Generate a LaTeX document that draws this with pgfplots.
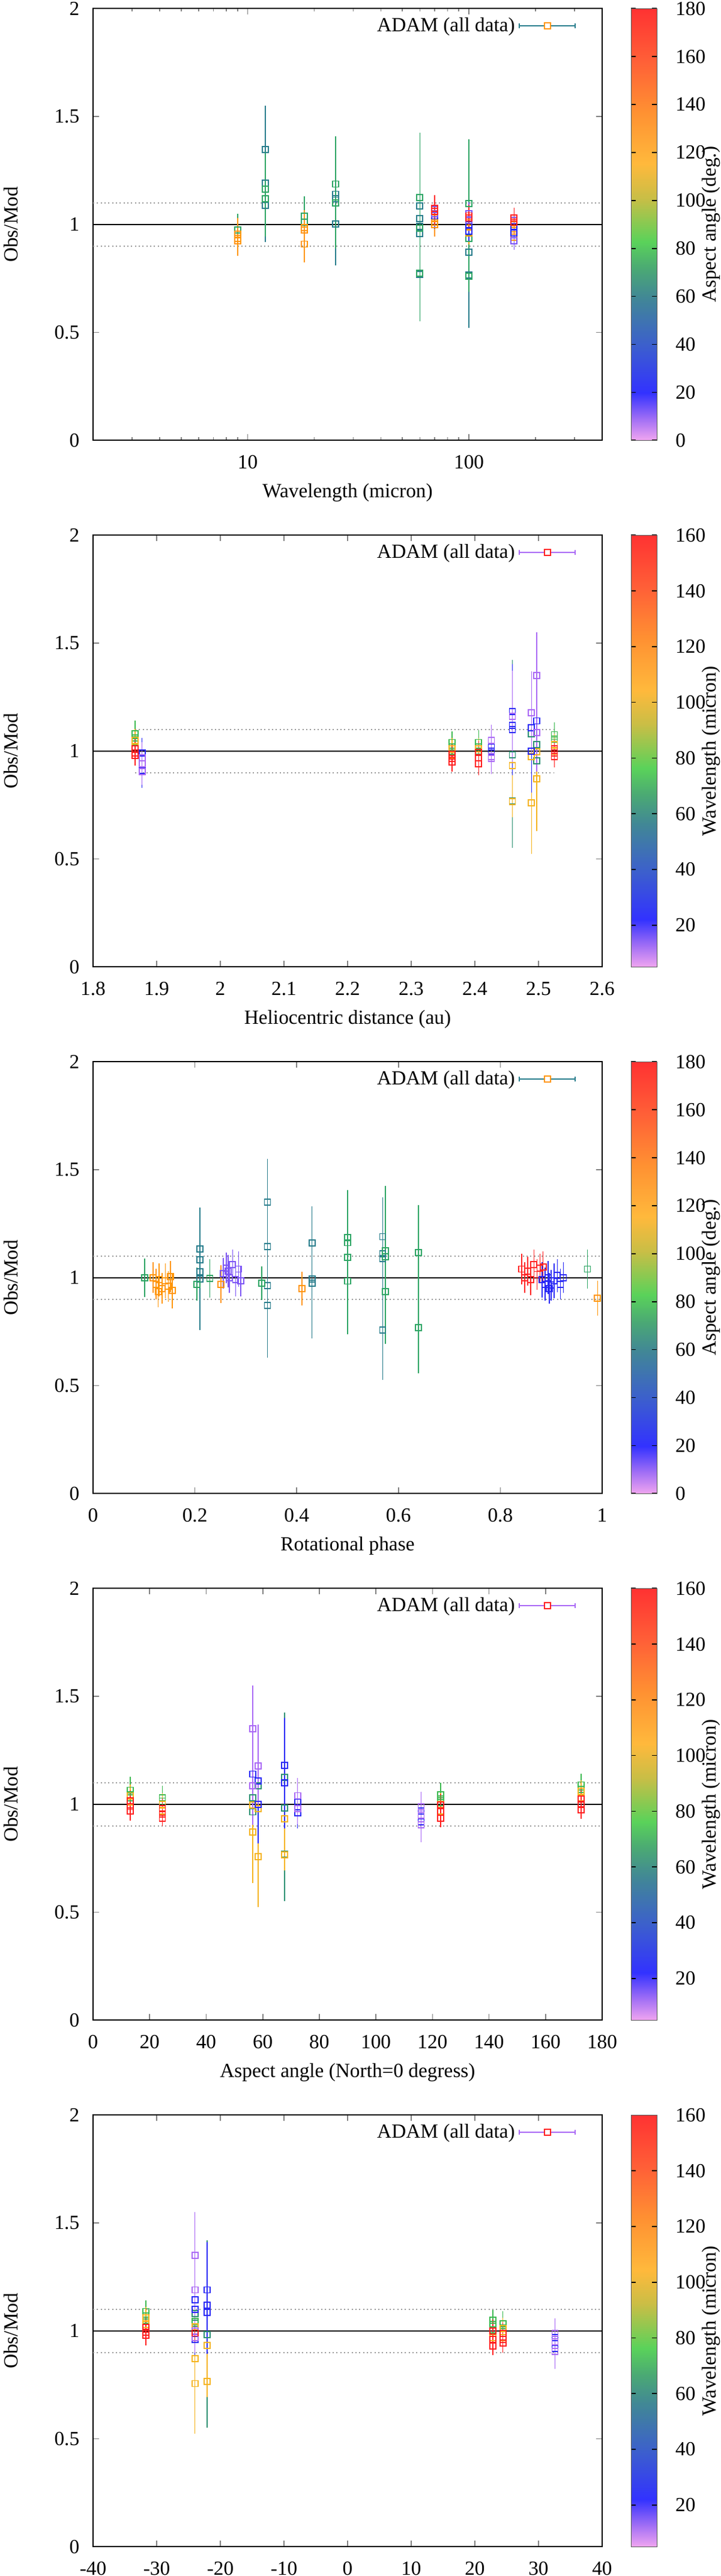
\documentclass[border=0pt]{standalone}
\usepackage{fontspec}
\setmainfont{Liberation Serif}
\usepackage{pgfplots}
\pgfplotsset{compat=1.18}
\definecolor{aV}{RGB}{125,85,245}
\definecolor{aB}{RGB}{40,40,245}
\definecolor{aT}{RGB}{40,125,140}
\definecolor{aG}{RGB}{45,165,100}
\definecolor{aO}{RGB}{255,150,10}
\definecolor{aR}{RGB}{255,35,35}
\definecolor{wV}{RGB}{170,105,245}
\definecolor{wB}{RGB}{40,40,245}
\definecolor{wT}{RGB}{45,145,115}
\definecolor{wG}{RGB}{60,185,80}
\definecolor{wO}{RGB}{245,180,30}
\definecolor{wR}{RGB}{255,30,30}
\pgfplotsset{
  colormap={adam}{rgb255(0cm)=(240,165,240) rgb255(5cm)=(160,110,245) rgb255(11cm)=(50,50,255) rgb255(22cm)=(60,95,205) rgb255(33cm)=(65,135,150) rgb255(40cm)=(75,170,115) rgb255(46cm)=(90,210,90) rgb255(56cm)=(200,190,70) rgb255(64cm)=(255,185,60) rgb255(76cm)=(255,145,50) rgb255(88cm)=(255,95,55) rgb255(100cm)=(255,50,50)},
  panel/.style={
    scale only axis, width=254.4pt, height=215.7pt,
    anchor=north west,
    ymin=0, ymax=2, ytick={0,0.5,1,1.5,2},
    axis line style={line width=0.6pt},
    tick align=inside, major tick length=3pt, minor tick length=1.5pt,
    tick style={gray, line width=0.5pt},
    /pgf/number format/assume math mode=true,
    ticklabel style={font=\fontsize{10}{12}\selectfont},
    yticklabel style={xshift=-3.3pt},
    xticklabel style={yshift=-3.9pt},
    label style={font=\fontsize{10}{12}\selectfont},
    ylabel={Obs/Mod},
    ylabel style={at={(axis description cs:0,0.5)}, anchor=center, inner sep=0pt, yshift=41pt},
    xlabel style={at={(axis description cs:0.5,0)}, anchor=center, yshift=-26.1pt},
    colormap name=adam,
    colorbar,
    legend style={draw=none, fill=none, inner sep=0pt, at={(axis description cs:0.949,0.96)}, anchor=east, font=\fontsize{10}{12}\selectfont},
    legend plot pos=right,
    legend cell align=right,
  },
  cbar/.style={colorbar style={
    scale only axis, width=12.9pt, height=215.7pt,
    at={(parent axis.north east)}, anchor=north west, xshift=6pt,
    tick align=inside, major tick length=2.4pt,
    ytick pos=both, yticklabel pos=right,
    tick style={black, line width=0.5pt},
    axis line style={line width=0.4pt, gray!70!black},
    /pgf/number format/assume math mode=true,
    yticklabel style={font=\fontsize{10}{12}\selectfont, xshift=5.7pt},
    ylabel={#1},
    ylabel style={font=\fontsize{10}{12}\selectfont, at={(axis description cs:1,0.5)}, anchor=center, inner sep=0pt, yshift=-27pt},
  }},
  dat/.style={only marks, mark=square, mark size=1.5pt, line width=0.55pt, mark options={solid, line width=0.55pt},
    error bars/y dir=both, error bars/y explicit,
    error bars/error bar style={line width=0.5pt},
    error bars/error mark options={line width=0.5pt, mark size=1.2pt}},
  ref/.style={black, line width=0.6pt, forget plot},
  dots/.style={gray!80, line width=0.6pt, dash pattern=on 0.6pt off 1.3pt, forget plot},
}
\newcommand{\adamlegend}[2]{%
  \addlegendimage{legend image code/.code={
    \draw[#1, line width=0.5pt] (0pt,0pt) -- (27.9pt,0pt);
    \draw[#1, line width=0.5pt] (0pt,-1.2pt) -- (0pt,1.2pt);
    \draw[#1, line width=0.5pt] (27.9pt,-1.2pt) -- (27.9pt,1.2pt);
    \draw[#2, line width=0.55pt, fill=white] (12.45pt,-1.5pt) rectangle (15.45pt,1.5pt);
  }}
  \addlegendentry{ADAM (all data)}}
\begin{document}
\begin{tikzpicture}
% ---------------- Panel 1 : wavelength ----------------
\begin{axis}[panel, at={(46.5pt,-4.29pt)},
  xmode=log, xmin=2, xmax=400, xtick={10,100}, xticklabels={10,100},
  minor xtick={2,3,4,5,6,7,8,9,20,30,40,50,60,70,80,90,200,300,400},
  xlabel={Wavelength (micron)},
  point meta min=0, point meta max=180,
  cbar={Aspect angle (deg.)}, colorbar style={ytick={0,20,40,60,80,100,120,140,160,180}}]
\addplot[ref] coordinates {(2,1) (400,1)};
\addplot[dots] coordinates {(2,1.1) (400,1.1)};
\addplot[dots] coordinates {(2,0.9) (400,0.9)};
\addplot[dat, color=aT, forget plot] coordinates {
 (12,1.347) +- (0,0.192) (12,1.191) +- (0,0.167) (12,1.089) +- (0,0.16)
 (25,1.14) +- (0,0.18) (25,1.12) +- (0,0.19) (25,1.002) +- (0,0.18)
 (60,1.085) +- (0,0.25) (60,1.028) +- (0,0.24) (60,0.99) +- (0,0.23) (60,0.958) +- (0,0.255) (60,0.768) +- (0,0.055)
 (100,1.00) +- (0,0.28) (100,0.872) +- (0,0.34) (100,0.765) +- (0,0.065)};
\addplot[dat, color=aG, forget plot] coordinates {
 (9,0.974) +- (0,0.064)
 (12,1.163) +- (0,0.165) (12,1.12) +- (0,0.165)
 (18,1.038) +- (0,0.08) (18,1.01) +- (0,0.065)
 (25,1.187) +- (0,0.21) (25,1.10) +- (0,0.2)
 (60,1.125) +- (0,0.29) (60,0.983) +- (0,0.42) (60,0.773) +- (0,0.06)
 (100,1.097) +- (0,0.285) (100,0.935) +- (0,0.225) (100,0.76) +- (0,0.06)};
\addplot[dat, color=aO, forget plot] coordinates {
 (9,0.955) +- (0,0.065) (9,0.935) +- (0,0.068) (9,0.925) +- (0,0.04)
 (18,0.985) +- (0,0.07) (18,0.975) +- (0,0.06) (18,0.909) +- (0,0.075)
 (70,1.03) +- (0,0.045) (70,1.01) +- (0,0.045) (70,1.0) +- (0,0.045)
 (100,1.01) +- (0,0.04) (100,0.99) +- (0,0.04) (100,0.96) +- (0,0.04)
 (160,1.0) +- (0,0.04) (160,0.98) +- (0,0.04) (160,0.96) +- (0,0.04) (160,0.94) +- (0,0.035)};
\addplot[dat, color=aB, forget plot] coordinates {
 (70,1.04) +- (0,0.05) (100,1.0) +- (0,0.04) (100,0.97) +- (0,0.04) (160,0.99) +- (0,0.04) (160,0.96) +- (0,0.04)};
\addplot[dat, color=aV, forget plot] coordinates {
 (70,1.07) +- (0,0.05) (70,1.05) +- (0,0.05) (100,1.05) +- (0,0.04) (100,1.02) +- (0,0.04) (160,1.02) +- (0,0.04) (160,0.925) +- (0,0.03)};
\addplot[dat, color=aR, forget plot] coordinates {
 (70,1.075) +- (0,0.05) (70,1.06) +- (0,0.05) (100,1.04) +- (0,0.04) (100,1.03) +- (0,0.04) (160,1.03) +- (0,0.035) (160,1.01) +- (0,0.04)};
\adamlegend{aT}{aO}
\end{axis}
% ---------------- Panel 2 : heliocentric distance ----------------
\begin{axis}[panel, at={(46.5pt,-267.39pt)},
  xmin=1.8, xmax=2.6, xtick={1.8,1.9,2,2.1,2.2,2.3,2.4,2.5,2.6},
  xlabel={Heliocentric distance (au)},
  point meta min=5, point meta max=160,
  cbar={Wavelength (micron)}, colorbar style={ytick={20,40,60,80,100,120,140,160}}]
\addplot[ref] coordinates {(1.8,1) (2.6,1)};
\addplot[dots] coordinates {(1.866,1.1) (2.525,1.1)};
\addplot[dots] coordinates {(1.866,0.9) (2.525,0.9)};
\addplot[dat, color=wT, forget plot] coordinates {
 (2.459,1.12) +- (0,0.29) (2.459,0.983) +- (0,0.42) (2.459,0.77) +- (0,0.06)
 (2.489,1.08) +- (0,0.25) (2.497,1.03) +- (0,0.24) (2.497,0.955) +- (0,0.245)};
\addplot[dat, color=wG, forget plot] coordinates {
 (1.866,1.08) +- (0,0.05) (1.866,1.06) +- (0,0.05) (1.866,1.045) +- (0,0.045)
 (2.364,1.04) +- (0,0.04) (2.364,1.02) +- (0,0.04) (2.364,1.0) +- (0,0.04)
 (2.406,1.04) +- (0,0.045) (2.406,1.02) +- (0,0.045) (2.406,1.0) +- (0,0.04)
 (2.525,1.076) +- (0,0.046) (2.525,1.055) +- (0,0.045) (2.525,1.04) +- (0,0.045)};
\addplot[dat, color=wO, forget plot] coordinates {
 (1.866,1.05) +- (0,0.04) (1.866,1.02) +- (0,0.04)
 (2.364,1.01) +- (0,0.04) (2.364,0.98) +- (0,0.04)
 (2.406,1.01) +- (0,0.04) (2.406,0.97) +- (0,0.04)
 (2.525,1.03) +- (0,0.04) (2.525,1.0) +- (0,0.04)
 (2.459,0.932) +- (0,0.225) (2.459,0.765) +- (0,0.06)
 (2.489,0.974) +- (0,0.30) (2.489,0.761) +- (0,0.225)
 (2.497,0.997) +- (0,0.28) (2.497,0.872) +- (0,0.23)};
\addplot[dat, color=wB, forget plot] coordinates {
 (1.877,0.99) +- (0,0.06) (1.877,0.91) +- (0,0.07)
 (2.426,1.02) +- (0,0.065) (2.426,1.0) +- (0,0.065)
 (2.459,1.183) +- (0,0.21) (2.459,1.12) +- (0,0.18) (2.459,1.10) +- (0,0.2)
 (2.489,1.108) +- (0,0.18) (2.489,1.0) +- (0,0.18) (2.497,1.14) +- (0,0.17)};
\addplot[dat, color=wV, forget plot] coordinates {
 (1.877,0.97) +- (0,0.06) (1.877,0.94) +- (0,0.05) (1.877,0.905) +- (0,0.05)
 (2.426,1.05) +- (0,0.06) (2.426,0.975) +- (0,0.06) (2.426,0.965) +- (0,0.06)
 (2.459,1.16) +- (0,0.2) (2.489,1.178) +- (0,0.18) (2.497,1.35) +- (0,0.19) (2.497,1.085) +- (0,0.17)};
\addplot[dat, color=wR, forget plot] coordinates {
 (1.866,1.01) +- (0,0.035) (1.866,0.99) +- (0,0.035) (1.866,0.98) +- (0,0.035)
 (2.364,0.985) +- (0,0.035) (2.364,0.965) +- (0,0.035) (2.364,0.95) +- (0,0.035)
 (2.406,0.995) +- (0,0.04) (2.406,0.97) +- (0,0.04) (2.406,0.94) +- (0,0.04)
 (2.525,1.01) +- (0,0.035) (2.525,0.99) +- (0,0.035) (2.525,0.975) +- (0,0.04)};
\adamlegend{wV}{wR}
\end{axis}
% ---------------- Panel 3 : rotational phase ----------------
\begin{axis}[panel, at={(46.5pt,-530.49pt)},
  xmin=0, xmax=1, xtick={0,0.2,0.4,0.6,0.8,1},
  xlabel={Rotational phase},
  point meta min=0, point meta max=180,
  cbar={Aspect angle (deg.)}, colorbar style={ytick={0,20,40,60,80,100,120,140,160,180}}]
\addplot[ref] coordinates {(0,1) (1,1)};
\addplot[dots] coordinates {(0,1.1) (1,1.1)};
\addplot[dots] coordinates {(0,0.9) (1,0.9)};
\addplot[dat, color=aT, forget plot] coordinates {
 (0.210,1.134) +- (0,0.18) (0.210,1.083) +- (0,0.2) (0.210,1.028) +- (0,0.26) (0.210,0.995) +- (0,0.12)
 (0.3425,1.35) +- (0,0.19) (0.3425,1.144) +- (0,0.17) (0.3425,0.963) +- (0,0.25) (0.3425,0.872) +- (0,0.23)
 (0.43,1.16) +- (0,0.16) (0.43,0.995) +- (0,0.265) (0.43,0.975) +- (0,0.235)
 (0.569,1.19) +- (0,0.17) (0.569,1.11) +- (0,0.18) (0.569,1.088) +- (0,0.2) (0.569,0.757) +- (0,0.22)};
\addplot[dat, color=aG, forget plot] coordinates {
 (0.1015,1.00) +- (0,0.078) (0.204,0.97) +- (0,0.065) (0.2294,0.997) +- (0,0.077) (0.331,0.974) +- (0,0.066)
 (0.5,1.185) +- (0,0.21) (0.5,1.162) +- (0,0.164) (0.5,1.093) +- (0,0.292) (0.5,0.984) +- (0,0.235)
 (0.574,1.125) +- (0,0.29) (0.574,1.097) +- (0,0.19) (0.574,0.935) +- (0,0.23)
 (0.639,1.116) +- (0,0.21) (0.639,0.768) +- (0,0.2) (0.971,1.04) +- (0,0.08)};
\addplot[dat, color=aO, forget plot] coordinates {
 (0.118,1.00) +- (0,0.06) (0.124,0.97) +- (0,0.06) (0.128,0.935) +- (0,0.06) (0.130,0.99) +- (0,0.065)
 (0.136,0.95) +- (0,0.06) (0.142,0.985) +- (0,0.07) (0.148,0.96) +- (0,0.06) (0.152,1.005) +- (0,0.06) (0.156,0.94) +- (0,0.07)
 (0.251,0.97) +- (0,0.077) (0.41,0.95) +- (0,0.066) (0.991,0.905) +- (0,0.07)};
\addplot[dat, color=aV, forget plot] coordinates {
 (0.256,1.02) +- (0,0.06) (0.262,1.045) +- (0,0.06) (0.265,1.03) +- (0,0.065) (0.268,1.00) +- (0,0.06)
 (0.274,1.06) +- (0,0.06) (0.280,0.99) +- (0,0.065) (0.286,1.04) +- (0,0.07) (0.290,0.985) +- (0,0.06)};
\addplot[dat, color=aR, forget plot] coordinates {
 (0.842,1.04) +- (0,0.06) (0.848,1.0) +- (0,0.06) (0.854,1.03) +- (0,0.055) (0.860,0.99) +- (0,0.06)
 (0.866,1.06) +- (0,0.06) (0.872,1.015) +- (0,0.06) (0.878,1.045) +- (0,0.055) (0.884,1.05) +- (0,0.06)};
\addplot[dat, color=aB, forget plot] coordinates {
 (0.882,0.99) +- (0,0.07) (0.888,0.97) +- (0,0.065) (0.894,1.0) +- (0,0.065) (0.896,0.95) +- (0,0.06)
 (0.900,0.965) +- (0,0.06) (0.906,0.985) +- (0,0.07) (0.912,1.01) +- (0,0.065) (0.918,0.97) +- (0,0.06) (0.924,1.0) +- (0,0.06)};
\adamlegend{aT}{aO}
\end{axis}
% ---------------- Panel 4 : aspect angle ----------------
\begin{axis}[panel, at={(46.5pt,-793.59pt)},
  xmin=0, xmax=180, xtick={0,20,40,60,80,100,120,140,160,180},
  xlabel={Aspect angle (North=0 degress)},
  point meta min=5, point meta max=160,
  cbar={Wavelength (micron)}, colorbar style={ytick={20,40,60,80,100,120,140,160}}]
\addplot[ref] coordinates {(0,1) (180,1)};
\addplot[dots] coordinates {(0,1.1) (180,1.1)};
\addplot[dots] coordinates {(0,0.9) (180,0.9)};
\addplot[dat, color=wT, forget plot] coordinates {
 (56.5,1.03) +- (0,0.24) (56.5,0.965) +- (0,0.25) (58.4,1.085) +- (0,0.25)
 (67.7,1.125) +- (0,0.29) (67.7,0.983) +- (0,0.42) (67.7,0.77) +- (0,0.06)};
\addplot[dat, color=wG, forget plot] coordinates {
 (13.2,1.065) +- (0,0.05) (13.2,1.045) +- (0,0.05) (13.2,1.03) +- (0,0.045)
 (24.5,1.03) +- (0,0.045) (24.5,1.015) +- (0,0.04) (24.5,1.0) +- (0,0.04)
 (122.9,1.044) +- (0,0.044) (122.9,1.025) +- (0,0.04) (122.9,1.007) +- (0,0.04)
 (172.6,1.09) +- (0,0.04) (172.6,1.07) +- (0,0.045) (172.6,1.053) +- (0,0.045)};
\addplot[dat, color=wO, forget plot] coordinates {
 (13.2,1.04) +- (0,0.04) (13.2,1.01) +- (0,0.04) (24.5,1.0) +- (0,0.04) (24.5,0.97) +- (0,0.04)
 (122.9,1.0) +- (0,0.04) (122.9,0.97) +- (0,0.04) (172.6,1.06) +- (0,0.04) (172.6,1.03) +- (0,0.04)
 (56.5,0.997) +- (0,0.28) (56.5,0.872) +- (0,0.225) (58.4,0.979) +- (0,0.3) (58.4,0.758) +- (0,0.222)
 (67.7,0.932) +- (0,0.225) (67.7,0.765) +- (0,0.06)};
\addplot[dat, color=wB, forget plot] coordinates {
 (56.5,1.14) +- (0,0.17) (58.4,1.108) +- (0,0.18) (58.4,1.0) +- (0,0.17)
 (67.7,1.18) +- (0,0.21) (67.7,1.10) +- (0,0.2)
 (72.3,1.01) +- (0,0.07) (72.3,0.96) +- (0,0.06) (116,0.97) +- (0,0.06) (116,0.92) +- (0,0.06)};
\addplot[dat, color=wV, forget plot] coordinates {
 (56.5,1.35) +- (0,0.19) (56.5,1.085) +- (0,0.17) (58.4,1.178) +- (0,0.18)
 (72.3,1.04) +- (0,0.07) (72.3,0.98) +- (0,0.06)
 (116,0.988) +- (0,0.06) (116,0.95) +- (0,0.06) (116,0.905) +- (0,0.07)};
\addplot[dat, color=wR, forget plot] coordinates {
 (13.2,1.016) +- (0,0.035) (13.2,0.99) +- (0,0.035) (13.2,0.97) +- (0,0.035)
 (24.5,0.98) +- (0,0.035) (24.5,0.955) +- (0,0.035) (24.5,0.935) +- (0,0.025)
 (122.9,0.997) +- (0,0.04) (122.9,0.965) +- (0,0.04) (122.9,0.935) +- (0,0.03)
 (172.6,1.025) +- (0,0.035) (172.6,1.0) +- (0,0.035) (172.6,0.975) +- (0,0.03)};
\adamlegend{wV}{wR}
\end{axis}
% ---------------- Panel 5 ----------------
\begin{axis}[panel, at={(46.5pt,-1056.69pt)},
  xmin=-40, xmax=40, xtick={-40,-30,-20,-10,0,10,20,30,40},
  point meta min=5, point meta max=160,
  cbar={Wavelength (micron)}, colorbar style={ytick={20,40,60,80,100,120,140,160}}]
\addplot[ref] coordinates {(-40,1) (40,1)};
\addplot[dots] coordinates {(-40,1.1) (40,1.1)};
\addplot[dots] coordinates {(-40,0.9) (40,0.9)};
\addplot[dat, color=wT, forget plot] coordinates {
 (-24.0,1.08) +- (0,0.25) (-24.0,1.035) +- (0,0.24)
 (-22.1,1.118) +- (0,0.29) (-22.1,0.983) +- (0,0.42) (-22.1,0.765) +- (0,0.06)};
\addplot[dat, color=wG, forget plot] coordinates {
 (-31.7,1.09) +- (0,0.04) (-31.7,1.07) +- (0,0.045) (-31.7,1.05) +- (0,0.045)
 (-24.0,1.045) +- (0,0.045)
 (22.8,1.05) +- (0,0.035) (22.8,1.03) +- (0,0.04) (22.8,1.006) +- (0,0.04)
 (24.4,1.034) +- (0,0.046) (24.4,1.015) +- (0,0.04) (24.4,0.997) +- (0,0.04)};
\addplot[dat, color=wO, forget plot] coordinates {
 (-31.7,1.06) +- (0,0.04) (-31.7,1.03) +- (0,0.04) (-24.0,1.02) +- (0,0.04)
 (22.8,1.0) +- (0,0.04) (22.8,0.97) +- (0,0.04) (24.4,1.01) +- (0,0.04) (24.4,0.97) +- (0,0.04)
 (-24.0,0.872) +- (0,0.225) (-24.0,0.756) +- (0,0.22) (-22.1,0.932) +- (0,0.225) (-22.1,0.765) +- (0,0.06)};
\addplot[dat, color=wB, forget plot] coordinates {
 (-24.0,1.145) +- (0,0.18) (-24.0,1.10) +- (0,0.17) (-24.0,0.96) +- (0,0.06)
 (-22.1,1.19) +- (0,0.21) (-22.1,1.12) +- (0,0.2) (-22.1,1.085) +- (0,0.18)
 (32.6,0.97) +- (0,0.06) (32.6,0.92) +- (0,0.06)};
\addplot[dat, color=wV, forget plot] coordinates {
 (-24.0,1.35) +- (0,0.19) (-24.0,1.19) +- (0,0.18) (-24.0,1.0) +- (0,0.065) (-24.0,0.97) +- (0,0.06)
 (32.6,0.988) +- (0,0.06) (32.6,0.95) +- (0,0.06) (32.6,0.905) +- (0,0.07)};
\addplot[dat, color=wR, forget plot] coordinates {
 (-31.7,1.016) +- (0,0.035) (-31.7,0.995) +- (0,0.035) (-31.7,0.979) +- (0,0.035)
 (-24.0,0.99) +- (0,0.035)
 (22.8,1.0) +- (0,0.04) (22.8,0.96) +- (0,0.04) (22.8,0.93) +- (0,0.03)
 (24.4,0.988) +- (0,0.04) (24.4,0.96) +- (0,0.04) (24.4,0.945) +- (0,0.035)};
\adamlegend{wV}{wR}
\end{axis}
\pgfresetboundingbox
\path[use as bounding box] (0pt,0pt) rectangle (360pt,-1287pt);
\end{tikzpicture}
\end{document}
